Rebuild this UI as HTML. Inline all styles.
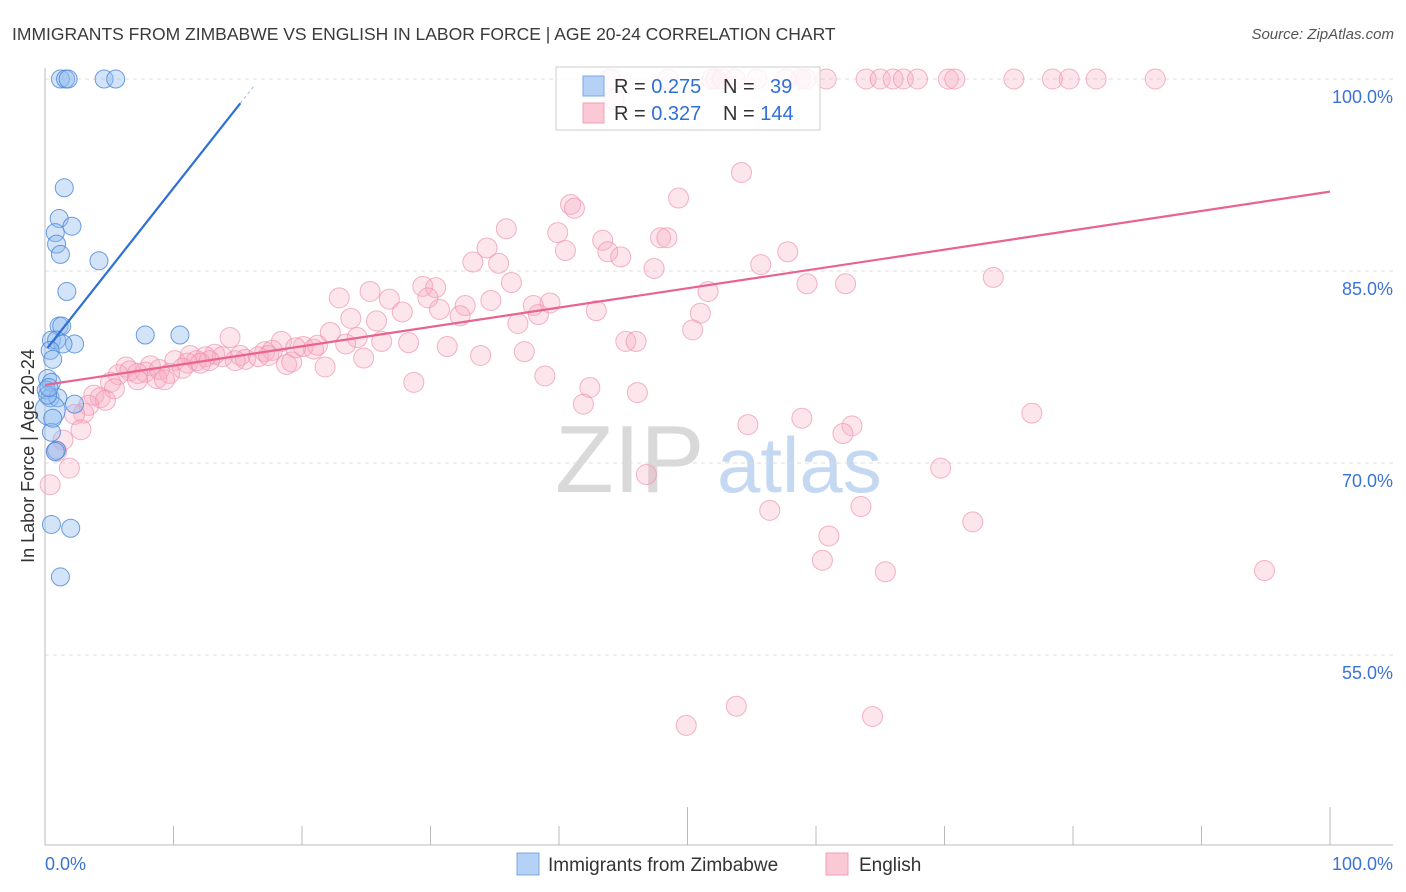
<!DOCTYPE html>
<html><head><meta charset="utf-8"><style>
body{margin:0;background:#fff;font-family:"Liberation Sans",sans-serif}
#wrap{position:relative;width:1406px;height:892px;overflow:hidden}
svg text{font-family:"Liberation Sans",sans-serif}
</style></head><body>
<div id="wrap">
<svg id="chart" width="1406" height="892">
<text x="12" y="40" font-size="17.5" fill="#3a3a3a">IMMIGRANTS FROM ZIMBABWE VS ENGLISH IN LABOR FORCE | AGE 20-24 CORRELATION CHART</text>
<text x="1394" y="39" font-size="15" fill="#555" font-style="italic" text-anchor="end">Source: ZipAtlas.com</text>
<text x="555" y="492" font-size="96" fill="#d9d9d9" font-family="Liberation Serif">ZIP</text>
<text x="717" y="492" font-size="78" fill="#c5d8f2">atlas</text>
<g id="grid"></g><g id="axes"></g><g id="pink"></g><g id="blue"></g><g id="trends"></g>
<text transform="translate(34,456) rotate(-90)" font-size="18" fill="#333" text-anchor="middle">In Labor Force | Age 20-24</text>
<g>
<rect x="556" y="67" width="264" height="63" fill="#fff" fill-opacity="0.8" stroke="#ccc"/>
<rect x="583" y="76" width="21" height="20" fill="#b5d1f5" stroke="#7aa7e6"/>
<rect x="583" y="103" width="21" height="20" fill="#fbc8d6" stroke="#f0a0b8"/>
<text x="614" y="93" font-size="20" fill="#333">R = <tspan fill="#2f6fd6">0.275</tspan></text>
<text x="723" y="93" font-size="20" fill="#333">N =  <tspan fill="#2f6fd6" x="770">39</tspan></text>
<text x="614" y="120" font-size="20" fill="#333">R = <tspan fill="#2f6fd6">0.327</tspan></text>
<text x="723" y="120" font-size="20" fill="#333">N = <tspan fill="#2f6fd6">144</tspan></text>
</g>
<g>
<rect x="517" y="853" width="22" height="22" fill="#b5d1f5" stroke="#7aa7e6"/>
<text x="548" y="871" font-size="19" fill="#333">Immigrants from Zimbabwe</text>
<rect x="826" y="853" width="22" height="22" fill="#fbc8d6" stroke="#f0a0b8"/>
<text x="859" y="871" font-size="19" fill="#333">English</text>
</g>
</svg></div>
<script>
const yTicks=[100,85,70,55];
const yTickLabels=["100.0%","85.0%","70.0%","55.0%"];
const xTickLabels=["0.0%","100.0%"];
const blueX=[1.2,1.6,1.8,4.6,5.5,1.5,1.1,2.1,0.8,0.9,1.2,4.2,1.7,1.1,1.3,7.8,10.5,0.5,0.9,2.3,1.4,0.4,0.6,0.2,0.5,0.1,0.4,1.0,2.3,0.4,0.5,0.9,0.8,0.5,2.0,1.2,0.2,0.3,0.6];
const blueY=[100,100,100,100,100,91.5,89.1,88.5,88.0,87.1,86.3,85.8,83.4,80.7,80.7,80.0,80.0,79.6,79.6,79.3,79.3,78.8,78.1,76.6,76.3,75.7,75.1,75.1,74.6,74.1,72.4,71.0,70.9,65.2,64.9,61.1,75.3,75.9,73.5];
const pinkX=[44.0,48.5,51.9,52.2,52.7,53.7,55.4,57.7,58.8,59.2,60.8,63.9,65.0,66.0,66.8,67.9,70.3,70.8,75.4,78.4,79.7,81.8,86.4,44.3,
54.2,49.3,40.9,41.2,35.9,39.9,34.4,43.4,47.9,48.4,40.5,43.8,44.8,33.3,35.3,57.8,55.7,47.4,36.3,73.8,29.4,30.4,59.3,62.3,51.6,25.3,22.9,26.8,29.8,34.7,38.0,39.3,27.8,30.7,32.7,42.9,51.0,32.3,36.8,25.8,23.8,38.4,50.4,22.2,14.4,24.3,26.2,28.3,23.4,45.2,46.0,18.4,20.1,20.9,21.2,13.2,15.2,17.1,17.7,19.5,15.6,16.6,17.4,11.3,12.5,13.8,14.8,31.3,37.3,24.8,33.9,10.1,11.1,11.8,12.8,18.8,19.2,21.8,6.3,8.2,6.6,7.8,8.9,10.7,12.1,5.7,7.2,9.7,8.7,9.3,7.2,5.1,28.7,38.9,42.4,5.4,3.8,4.3,4.7,3.4,3.0,2.3,46.1,41.9,58.9,76.8,54.7,62.8,62.1,2.8,1.4,0.9,1.9,0.4,46.8,69.7,56.4,63.5,72.2,61.0,60.5,65.4,94.9,53.8,49.9,64.4];
const pinkY=[100,100,100,100,100,100,100,100,100,100,100,100,100,100,100,100,100,100,100,100,100,100,100,98.4,
92.7,90.7,90.2,89.9,88.3,88.0,86.8,87.4,87.6,87.6,86.6,86.5,86.1,85.7,85.6,86.5,85.5,85.2,84.1,84.5,83.8,83.7,84.0,84.0,83.4,83.4,82.9,82.8,82.9,82.7,82.3,82.5,81.8,82.0,82.3,81.9,81.7,81.5,80.9,81.1,81.3,81.6,80.4,80.2,79.8,79.8,79.5,79.4,79.3,79.5,79.5,79.5,79.1,78.9,79.2,78.5,78.4,78.7,78.8,79.0,78.1,78.3,78.4,78.4,78.3,78.3,78.0,79.1,78.7,78.2,78.4,78.0,77.8,78.0,78.0,77.7,77.9,77.5,77.5,77.6,77.2,77.1,77.3,77.4,77.8,76.9,77.0,77.0,76.6,76.5,76.5,76.3,76.3,76.8,75.9,75.8,75.3,75.1,74.9,74.5,73.9,73.8,75.5,74.6,73.5,73.9,73.0,72.9,72.3,72.6,71.8,70.9,69.6,68.3,69.1,69.6,66.3,66.6,65.4,64.3,62.4,61.5,61.6,51.0,49.5,50.2];
const blueTrend=[[0.2,79.0],[15.2,98.1]];
const blueTrendExt=[[15.2,98.1],[16.3,99.5]];
const pinkTrend=[[0,76.1],[100,91.2]];
const X0=45,X1=1330,YTOP=79,PXPER=192/15;
const sx=v=>X0+(X1-X0)*v/100;
const sy=v=>YTOP+(100-v)*PXPER;
const NS="http://www.w3.org/2000/svg";
function mk(tag,attrs,parent){const e=document.createElementNS(NS,tag);for(const k in attrs)e.setAttribute(k,attrs[k]);document.getElementById(parent).appendChild(e);return e;}
yTicks.forEach((t,i)=>{
 const g=mk('line',{x1:45,x2:1393,y1:sy(t),y2:sy(t),stroke:'#ddd','stroke-dasharray':'4,4'},'grid');
 
 
 const l=mk('text',{x:1393,y:sy(t)+24,'font-size':18,fill:'#3b72d6','text-anchor':'end'},'grid');
 l.textContent=yTickLabels[i];
 
 
});
let a=mk('line',{x1:45,x2:45,y1:68,y2:845,stroke:'#bbb'},'axes');


a=mk('line',{x1:45,x2:1393,y1:845,y2:845,stroke:'#bbb'},'axes');


for(let i=0;i<=10;i++){
 const tk=mk('line',{x1:sx(i*10),x2:sx(i*10),y1:(i%5==0?807:826),y2:845,stroke:'#bbb'},'axes');
 
 
}
[[0,'start'],[100,'end']].forEach((p,i)=>{
 const t=mk('text',{x:sx(p[0])+(i?63:0),y:870,'font-size':18,fill:'#3b72d6','text-anchor':p[1]},'axes');
 t.textContent=xTickLabels[i];
 
 
});
pinkX.forEach((x,i)=>{
 const c=mk('circle',{cx:sx(x),cy:sy(pinkY[i]),r:10,fill:'#f7a8c0','fill-opacity':0.3,stroke:'#ee93b0','stroke-opacity':0.7,'stroke-width':1},'pink');
 
 
});
blueX.forEach((x,i)=>{
 const c=mk('circle',{cx:sx(x),cy:sy(blueY[i]),r:(i==29?15:9),fill:'#90bbef','fill-opacity':0.4,stroke:'#4a86d8','stroke-opacity':0.8,'stroke-width':1},'blue');
 
 
});
let tl=mk('line',{x1:sx(blueTrend[0][0]),y1:sy(blueTrend[0][1]),x2:sx(blueTrend[1][0]),y2:sy(blueTrend[1][1]),stroke:'#2e70d4','stroke-width':2.2},'trends');


tl=mk('line',{x1:sx(blueTrendExt[0][0]),y1:sy(blueTrendExt[0][1]),x2:sx(blueTrendExt[1][0]),y2:sy(blueTrendExt[1][1]),stroke:'#9dbde8','stroke-width':1,'stroke-dasharray':'3,3'},'trends');


tl=mk('line',{x1:sx(pinkTrend[0][0]),y1:sy(pinkTrend[0][1]),x2:sx(pinkTrend[1][0]),y2:sy(pinkTrend[1][1]),stroke:'#e8638d','stroke-width':2.2},'trends');


</script>
</body></html>
